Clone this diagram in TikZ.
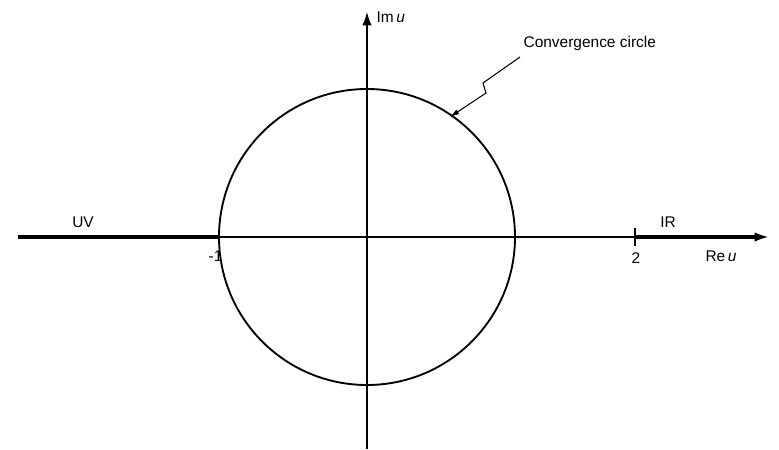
\documentclass[tikz,border=0pt]{standalone}
\usepackage{fontspec}
\setmainfont{Liberation Sans}
\usetikzlibrary{arrows.meta,positioning}

\begin{document}
\begin{tikzpicture}[x=0.75pt,y=-0.75pt,
    axis/.style={line width=1pt,-{Latex[length=10pt,width=7pt]}},
    cut/.style={line width=3.6pt},
    lbl/.style={font=\fontsize{11.6}{13}\selectfont,inner sep=1pt}]
			\useasboundingbox (0,0) rectangle (779,450);
			\coordinate (O) at (367,237);
			\coordinate (xl) at (18,237);
			\coordinate (xr) at (768,237);
			\coordinate (xe) at (756,237);
			\coordinate (yb) at (367,449);
			\coordinate (yt) at (367,12);
			\coordinate (m1) at (219,237);
			\coordinate (p2) at (635,237);

			\draw[line width=1.4pt] (O) circle[radius=111pt];
			\draw[axis] (xl) -- (xr);
			\draw[axis] (yb) -- (yt);
			\draw[cut] (xl) -- (m1);
			\draw[cut] (p2) -- (xe);
			\draw[line width=1pt] (p2) ++(0,-9) -- ++(0,18);

			\node[lbl,right] (imu) at (375,17) {Im\,\textit{u}};
			\node[lbl] (uv) at (83,222) {UV};
			\node[lbl] (ir) at (668,222) {IR};
			\node[lbl,left] (mone) at (224,256) {-1};
			\node[lbl] (two) at (636,258) {2};
			\node[lbl] (reu) at (721,256) {Re\,\textit{u}};
			\node[lbl,right] (conv) at (522,43) {Convergence circle};

			\coordinate (z0) at (520,57);
			\coordinate (z1) at (483,83);
			\coordinate (z2) at (486,93);
			\coordinate (z3) at (450,117);
			\draw[line width=0.8pt,-{Latex[length=7pt,width=4pt]}] (z0) -- (z1) -- (z2) -- (z3);
		\end{tikzpicture}
\end{document}
